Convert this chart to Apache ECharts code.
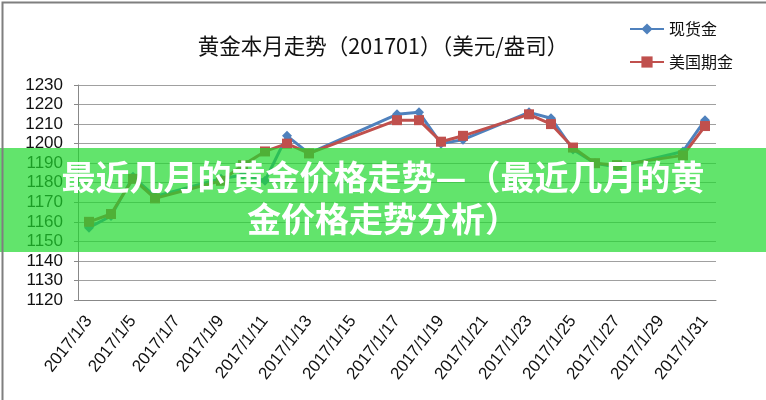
<!DOCTYPE html>
<html>
<head>
<meta charset="utf-8">
<script src="https://cdn.jsdelivr.net/npm/echarts@6/dist/echarts.min.js"></script>
<style>html,body{margin:0;padding:0;background:#fff}#c{width:766px;height:400px}</style>
</head>
<body>
<div id="c"></div>
<script>
var titleText = '黄金本月走势（201701）（美元/盎司）';
var bannerText = '最近几月的黄金价格走势—（最近几月的黄\n金价格走势分析）';
var seriesNames = ['现货金', '美国期金'];
var days = ['2017/1/3','2017/1/4','2017/1/5','2017/1/6','2017/1/7','2017/1/8','2017/1/9','2017/1/10','2017/1/11','2017/1/12','2017/1/13','2017/1/14','2017/1/15','2017/1/16','2017/1/17','2017/1/18','2017/1/19','2017/1/20','2017/1/21','2017/1/22','2017/1/23','2017/1/24','2017/1/25','2017/1/26','2017/1/27','2017/1/28','2017/1/29','2017/1/30','2017/1/31'];
var spotGold = [1157,1163,1183,1173,null,null,1182,1184,1181,1204,1195,null,null,null,1215,1216,1200,1202,null,null,1216,1213,1197,1190,1188,null,null,1196,1212];
var usFutures = [1160,1164,1182,1172,null,null,1181,1189,1196,1200,1195,null,null,null,1212,1212,1201,1204,null,null,1215,1210,1198,1190,1189,null,null,1194,1209];
var yMin = 1120, yMax = 1230, yStep = 10;

var chart = echarts.init(document.getElementById('c'), null, {renderer: 'canvas'});
var axisFont = '"Liberation Sans",sans-serif';
chart.setOption({
  animation: false,
  backgroundColor: '#fff',
  title: {
    text: titleText, left: 'center', top: 30,
    textStyle: {fontSize: 21.5, fontWeight: 'normal', color: '#111', fontFamily: '"Noto Sans CJK SC",sans-serif'}
  },
  legend: {
    data: seriesNames, orient: 'vertical', left: 624, top: 16, itemWidth: 34, itemHeight: 14, itemGap: 17,
    textStyle: {fontSize: 16, color: '#111', fontFamily: '"Noto Sans CJK SC",sans-serif'}
  },
  grid: {left: 78, right: 50, top: 85, bottom: 100, containLabel: false},
  xAxis: {
    type: 'category', data: days, boundaryGap: true,
    axisLine: {lineStyle: {color: '#888', width: 1}},
    axisTick: {interval: 1, length: 5, lineStyle: {color: '#888'}},
    axisLabel: {interval: 1, rotate: 52, margin: 18, fontSize: 17, color: '#111', fontFamily: axisFont}
  },
  yAxis: {
    type: 'value', min: yMin, max: yMax, interval: yStep,
    axisLine: {show: true, lineStyle: {color: '#888'}},
    axisTick: {show: true, length: 4, lineStyle: {color: '#888'}},
    axisLabel: {fontSize: 17, color: '#111', margin: 15, fontFamily: axisFont,
                formatter: function (v) { return String(v); }},
    splitLine: {lineStyle: {color: '#a0a0a0', width: 1}}
  },
  series: [
    {name: seriesNames[0], type: 'line', data: spotGold, connectNulls: true,
     symbol: 'diamond', symbolSize: 10, showSymbol: true,
     lineStyle: {color: '#4f81bd', width: 3}, itemStyle: {color: '#4f81bd'}},
    {name: seriesNames[1], type: 'line', data: usFutures, connectNulls: true,
     symbol: 'rect', symbolSize: 10, showSymbol: true,
     lineStyle: {color: '#c0504d', width: 3}, itemStyle: {color: '#c0504d'}}
  ],
  graphic: [
    {type: 'rect', left: 0, top: 148, z: 100, shape: {width: 766, height: 104},
     style: {fill: 'rgba(32,216,45,0.7)'}},
    {type: 'text', x: 383, y: 198, z: 101,
     style: {text: bannerText, fill: '#fff', fontSize: 34, fontWeight: 'bold', lineHeight: 42,
             align: 'center', verticalAlign: 'middle', fontFamily: '"Noto Sans CJK SC",sans-serif'}},
    {type: 'rect', left: 0, top: 0, z: 102, silent: true, shape: {width: 765, height: 399},
     style: {fill: 'none', stroke: '#7f7f7f', lineWidth: 2}}
  ]
});
</script>
</body>
</html>
